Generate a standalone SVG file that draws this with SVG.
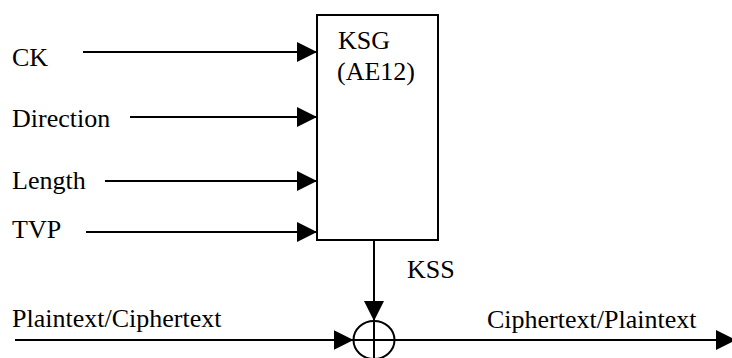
<svg xmlns="http://www.w3.org/2000/svg" width="732" height="358" viewBox="0 0 732 358">
  <style>
    .ln { stroke: #000; stroke-width: 2; fill: none; }
    .box { stroke: #000; stroke-width: 2; fill: #fff; }
  </style>
  <defs>
    <marker id="arrow" viewBox="0 0 20 20" refX="20" refY="10" markerWidth="20" markerHeight="20" markerUnits="userSpaceOnUse" orient="auto">
      <path d="M0,0 L20,10 L0,20 Z" fill="#000"/>
    </marker>
  </defs>

  <g font-family="Liberation Serif, Times New Roman, DejaVu Serif, serif" font-size="26" fill="#000">
    <!-- Key stream generator -->
    <g id="ksg">
      <rect class="box" x="317" y="15" width="121" height="225"/>
      <text x="338" y="49">KSG</text>
      <text x="337" y="80">(AE12)</text>
    </g>

    <!-- Inputs -->
    <g id="ck"><text x="12" y="66">CK</text></g>
    <g id="direction"><text x="12" y="127">Direction</text></g>
    <g id="length"><text x="12" y="189">Length</text></g>
    <g id="tvp"><text x="12" y="238">TVP</text></g>

    <!-- XOR combiner -->
    <g id="xor">
      <ellipse class="ln" cx="374" cy="340" rx="20.5" ry="19"/>
      <line class="ln" x1="374" y1="321" x2="374" y2="359"/>
      <line class="ln" x1="353.5" y1="340" x2="394.5" y2="340"/>
    </g>

    <g id="plain-in"><text x="12" y="327">Plaintext/Ciphertext</text></g>
    <g id="cipher-out"><text x="487" y="328">Ciphertext/Plaintext</text></g>

    <!-- Connectors -->
    <g id="connectors">
      <line class="ln" x1="83" y1="52" x2="317" y2="52" marker-end="url(#arrow)"/>
      <line class="ln" x1="130" y1="117" x2="317" y2="117" marker-end="url(#arrow)"/>
      <line class="ln" x1="105" y1="181" x2="317" y2="181" marker-end="url(#arrow)"/>
      <line class="ln" x1="86" y1="232" x2="317" y2="232" marker-end="url(#arrow)"/>
      <line class="ln" x1="374" y1="240" x2="374" y2="321" marker-end="url(#arrow)"/>
      <text x="407" y="278">KSS</text>
      <line class="ln" x1="15" y1="340" x2="353.5" y2="340" marker-end="url(#arrow)"/>
      <line class="ln" x1="394.5" y1="340" x2="736" y2="340" marker-end="url(#arrow)"/>
    </g>
  </g>
</svg>
